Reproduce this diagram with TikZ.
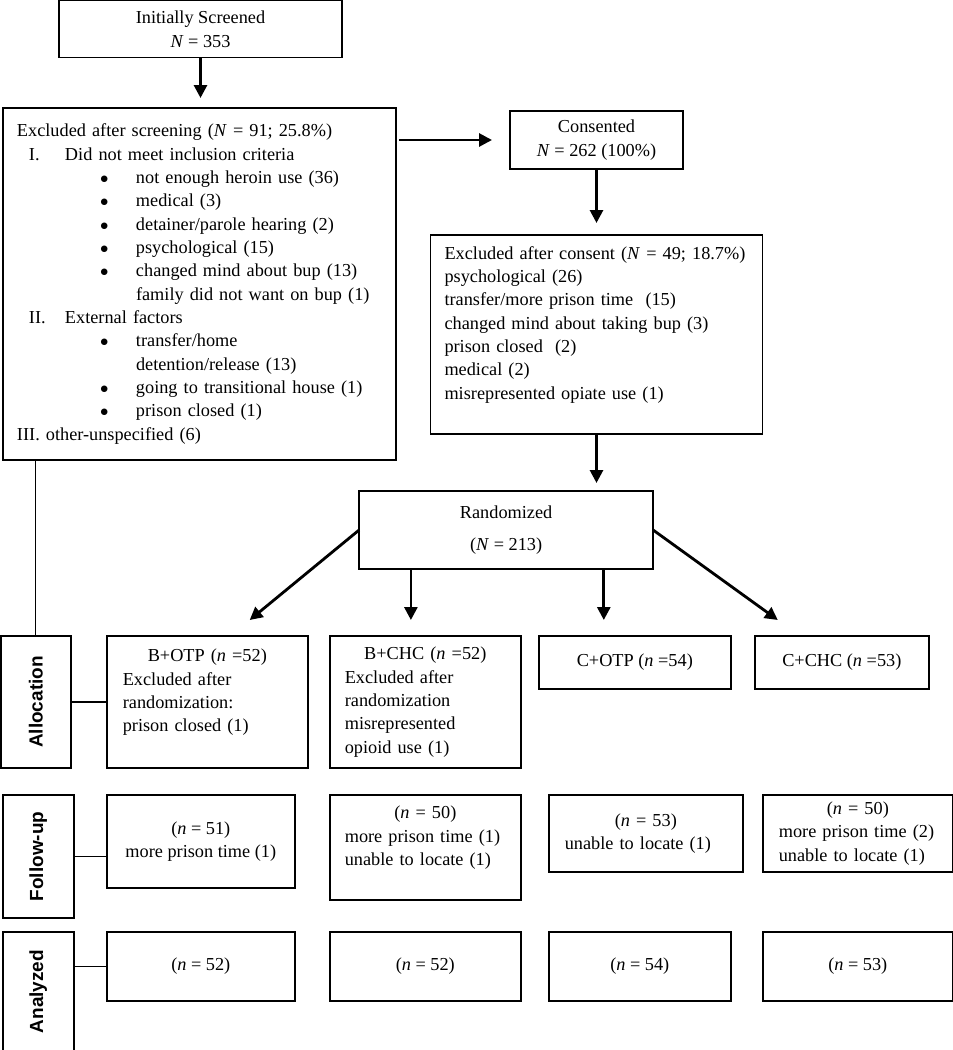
\documentclass[tikz,border=0pt]{standalone}
\usepackage{fontspec}
\setmainfont{Liberation Serif}
\setsansfont{Liberation Sans}
\usepackage{graphicx}
\usepackage{tikz}
\usetikzlibrary{arrows.meta,positioning}

\newcommand{\crithead}[2]{\hspace*{0.3cm}\makebox[0.9cm][l]{#1}#2}
\newcommand{\critem}[1]{\hspace*{2.075cm}\makebox[0.9cm][l]{$\bullet$}#1}
\newcommand{\critcont}[1]{\hspace*{2.975cm}#1}
\newcommand{\phasename}[1]{\rotatebox{90}{\fontsize{13.5}{16}\sffamily\bfseries #1}}

\begin{document}
\begin{tikzpicture}[flowbox/.style={draw, line width=1pt, rectangle, inner sep=0pt, outer sep=0pt, font=\fontsize{13}{16.6}\selectfont}]
        \tikzstyle{flowarrow} = [line width=2pt, -{Triangle[length=3.2mm, width=3.2mm]}]
        \tikzstyle{thinline} = [line width=0.9pt]
        \useasboundingbox (0,0) rectangle (23.825,-26.25);

        % screening and consent
        \node[flowbox, align=center, minimum width=7.075cm, minimum height=1.425cm, anchor=north west] (screen) at (1.475,-0.02) {Initially Screened\\\textit{N} = 353};
        \node[flowbox, align=left, text width=9.125cm, inner xsep=0.35cm, minimum width=9.825cm, minimum height=8.8cm, anchor=north west] (excl1) at (0.075,-2.7) {%
            Excluded after screening (\textit{N} = 91; 25.8\%)\\
            \crithead{I.}{Did not meet inclusion criteria}\\
            \critem{not enough heroin use (36)}\\
            \critem{medical (3)}\\
            \critem{detainer/parole hearing (2)}\\
            \critem{psychological (15)}\\
            \critem{changed mind about bup (13)}\\
            \critcont{family did not want on bup (1)}\\
            \crithead{II.}{External factors}\\
            \critem{transfer/home}\\
            \critcont{detention/release (13)}\\
            \critem{going to transitional house (1)}\\
            \critem{prison closed (1)}\\
            III. other-unspecified (6)};
        \node[flowbox, align=center, minimum width=4.325cm, minimum height=1.45cm, right=2.85cm of excl1.north east, anchor=north west, yshift=-0.075cm] (consent) {Consented\\\textit{N} = 262 (100\%)};
        \node[flowbox, align=left, text width=7.6cm, inner xsep=0.35cm, minimum width=8.3cm, minimum height=4.975cm, below=1.65cm of consent] (excl2) {%
            Excluded after consent (\textit{N} = 49; 18.7\%)\\
            psychological (26)\\
            transfer/more prison time\ \ (15)\\
            changed mind about taking bup (3)\\
            prison closed\ \ (2)\\
            medical (2)\\
            misrepresented opiate use (1)\\
            \mbox{}};
        \node[flowbox, align=center, minimum width=7.35cm, minimum height=1.95cm, below=1.425cm of excl2, xshift=-2.26cm] (rand) {Randomized\\[0.2cm](\textit{N} = 213)};

        % allocation
        \node[flowbox, minimum width=1.75cm, minimum height=3.3cm, anchor=north west] (alloc) at (0.02,-15.9) {\phasename{Allocation}};
        \node[flowbox, align=left, text width=4.225cm, inner xsep=0.4cm, minimum width=5.025cm, minimum height=3.3cm, right=0.9cm of alloc.north east, anchor=north west] (bo) {%
            \makebox[4.225cm]{B+OTP (\textit{n} =52)}\\
            Excluded after\\
            randomization:\\
            prison closed (1)\\
            \mbox{}};
        \node[flowbox, align=left, text width=4.025cm, inner xsep=0.375cm, minimum width=4.775cm, minimum height=3.3cm, right=0.55cm of bo.north east, anchor=north west] (bc) {%
            \makebox[4.025cm]{B+CHC (\textit{n} =52)}\\
            Excluded after\\
            randomization\\
            misrepresented\\
            opioid use (1)};
        \node[flowbox, align=center, minimum width=4.8cm, minimum height=1.325cm, right=0.45cm of bc.north east, anchor=north west] (co) {C+OTP (\textit{n} =54)};
        \node[flowbox, align=center, minimum width=4.35cm, minimum height=1.325cm, right=0.6cm of co.north east, anchor=north west] (cc) {C+CHC (\textit{n} =53)};

        % follow-up
        \node[flowbox, align=center, minimum width=4.7cm, minimum height=2.325cm, below=0.675cm of bo.south west, anchor=north west] (fbo) {(\textit{n} = 51)\\more prison time (1)};
        \node[flowbox, align=left, text width=4.025cm, inner xsep=0.375cm, minimum width=4.775cm, minimum height=2.625cm, below=0.675cm of bc.south west, anchor=north west] (fbc) {%
            \makebox[4.025cm]{(\textit{n} = 50)}\\
            more prison time (1)\\
            unable to locate (1)\\
            \mbox{}};
        \node[flowbox, align=left, text width=4.05cm, inner xsep=0.4cm, minimum width=4.85cm, minimum height=1.925cm, right=0.7cm of fbc.north east, anchor=north west] (fco) {%
            \makebox[4.05cm]{(\textit{n} = 53)}\\
            unable to locate (1)};
        \node[flowbox, align=left, text width=3.95cm, inner xsep=0.4cm, minimum width=4.75cm, minimum height=1.925cm, right=0.5cm of fco.north east, anchor=north west] (fcc) {%
            \makebox[3.95cm]{(\textit{n} = 50)}\\
            more prison time (2)\\
            unable to locate (1)};
        \node[flowbox, minimum width=1.775cm, minimum height=3.075cm, left=0.825cm of fbo.north west, anchor=north east] (follow) {\phasename{Follow-up}};

        % analysis
        \node[flowbox, minimum width=1.775cm, minimum height=2.975cm, below=0.35cm of follow.south west, anchor=north west] (analyzed) {\phasename{Analyzed}};
        \node[flowbox, align=center, minimum width=4.7cm, minimum height=1.725cm, right=0.825cm of analyzed.north east, anchor=north west] (abo) {(\textit{n} = 52)};
        \node[flowbox, align=center, minimum width=4.775cm, minimum height=1.725cm, right=0.875cm of abo.north east, anchor=north west] (abc) {(\textit{n} = 52)};
        \node[flowbox, align=center, minimum width=4.55cm, minimum height=1.725cm, right=0.7cm of abc.north east, anchor=north west] (aco) {(\textit{n} = 54)};
        \node[flowbox, align=center, minimum width=4.75cm, minimum height=1.725cm, right=0.8cm of aco.north east, anchor=north west] (acc) {(\textit{n} = 53)};

        % arrow tips above the arms
        \coordinate (tip1) at ([xshift=1.06cm, yshift=0.4cm]bo.north);
        \coordinate (tip2) at ([xshift=-0.36cm, yshift=0.4cm]bc.north);
        \coordinate (tip3) at ([xshift=-0.775cm, yshift=0.4cm]co.north);
        \coordinate (tip4) at ([xshift=-1.6cm, yshift=0.4cm]cc.north);

        \draw [flowarrow, shorten >=0.25cm] (screen.south) -- (screen.south |- excl1.north);
        \draw [flowarrow, shorten <=0.075cm, shorten >=0.45cm] (excl1.east |- consent.west) -- (consent.west);
        \draw [flowarrow, shorten >=0.3cm] (consent.south) -- (consent.south |- excl2.north);
        \draw [flowarrow, shorten >=0.2cm] (excl2.south) -- (excl2.south |- rand.north);
        \draw [flowarrow] (rand.west) -- (tip1);
        \draw [flowarrow] (tip2 |- rand.south) -- (tip2);
        \draw [flowarrow] (tip3 |- rand.south) -- (tip3);
        \draw [flowarrow] (rand.east) -- (tip4);

        \draw [thinline] (excl1.south -| alloc.north) -- (alloc.north);
        \draw [thinline] (alloc.east) -- (alloc.east -| bo.west);
        \draw [thinline] (follow.east) -- (follow.east -| fbo.west);
        \draw [thinline] (abo.west -| analyzed.east) -- (abo.west);
\end{tikzpicture}
\end{document}
